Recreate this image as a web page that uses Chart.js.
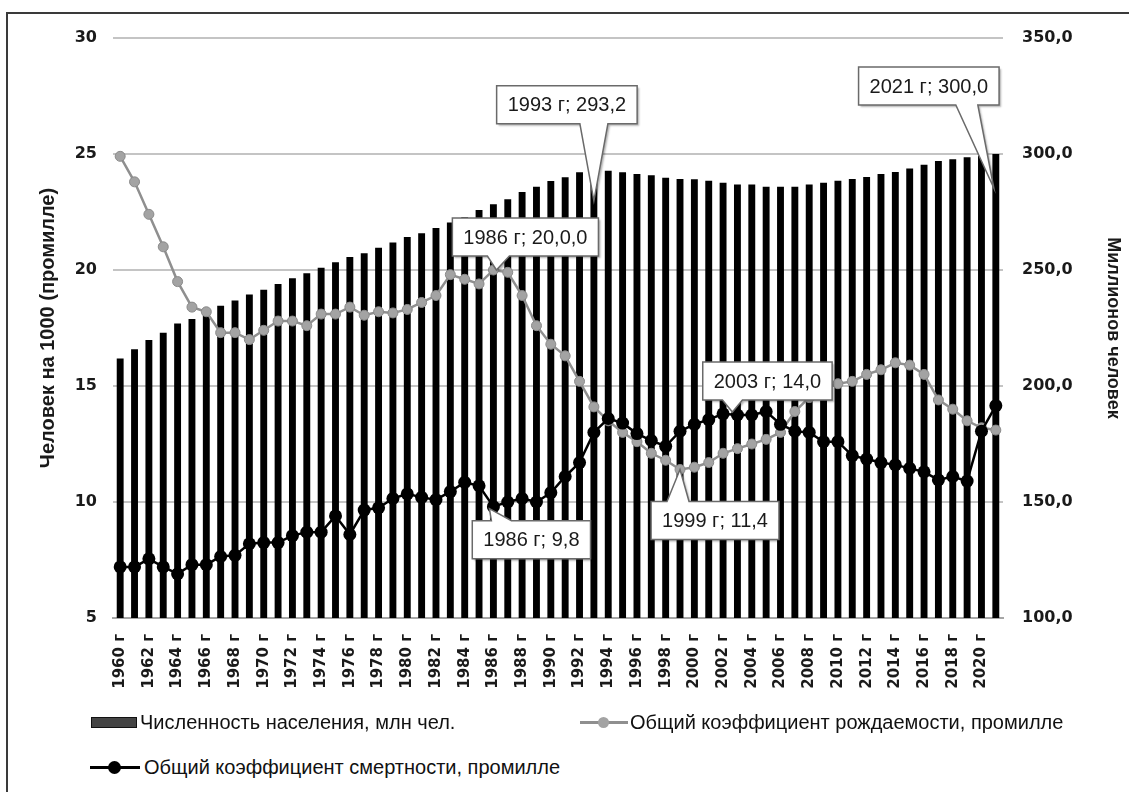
<!DOCTYPE html>
<html lang="ru">
<head>
<meta charset="utf-8">
<title>Численность населения и коэффициенты рождаемости и смертности</title>
<script src="https://cdn.jsdelivr.net/npm/chart.js@4.4.1/dist/chart.umd.min.js"></script>
<style>
    html, body { margin: 0; padding: 0; background: #fff; }
    body { width: 1129px; height: 792px; position: relative; overflow: hidden; font-family: "Liberation Sans", Arial, sans-serif; }
    .frame { position: absolute; left: 6px; top: 12px; width: 1200px; height: 900px; border: 2px solid #3a3a3a; }
    .chart-box { position: absolute; left: 0; top: 0; width: 1129px; height: 712px; }
    .legend-text { position: absolute; font-size: 20px; line-height: 24px; color: #111; white-space: nowrap; }
    .sym-bar { position: absolute; height: 9px; background: #444; border: 1.5px solid #111; }
    .sym-line { position: absolute; height: 3px; }
    .sym-dot { position: absolute; border-radius: 50%; }
</style>
</head>
<body>
<div class="frame"></div>
<div class="chart-box"><canvas id="populationChart"></canvas></div>

<!-- legend -->
<div class="sym-bar" style="left:91px; top:717px; width:44px;"></div>
<div class="legend-text" style="left:140px; top:710px;">Численность населения, млн чел.</div>

<div class="sym-line" style="left:580px; top:721px; width:48px; background:#8f8f8f;"></div>
<div class="sym-dot" style="left:598px; top:717px; width:11px; height:11px; background:#a3a3a3;"></div>
<div class="legend-text" style="left:630px; top:710px;">Общий коэффициент рождаемости, промилле</div>

<div class="sym-line" style="left:90px; top:766px; width:50px; background:#000;"></div>
<div class="sym-dot" style="left:108px; top:761px; width:13px; height:13px; background:#000;"></div>
<div class="legend-text" style="left:144px; top:755px;">Общий коэффициент смертности, промилле</div>

<script>
// categories
const years = [
    '1960 г', '1961 г', '1962 г', '1963 г', '1964 г', '1965 г', '1966 г', '1967 г', '1968 г', '1969 г',
    '1970 г', '1971 г', '1972 г', '1973 г', '1974 г', '1975 г', '1976 г', '1977 г', '1978 г', '1979 г',
    '1980 г', '1981 г', '1982 г', '1983 г', '1984 г', '1985 г', '1986 г', '1987 г', '1988 г', '1989 г',
    '1990 г', '1991 г', '1992 г', '1993 г', '1994 г', '1995 г', '1996 г', '1997 г', '1998 г', '1999 г',
    '2000 г', '2001 г', '2002 г', '2003 г', '2004 г', '2005 г', '2006 г', '2007 г', '2008 г', '2009 г',
    '2010 г', '2011 г', '2012 г', '2013 г', '2014 г', '2015 г', '2016 г', '2017 г', '2018 г', '2019 г',
    '2020 г', '2021 г'
];

// population, mln (right axis)
const population = [
    211.9, 215.8, 219.8, 223.0, 226.9, 228.9, 232.0, 234.6, 236.9, 239.4,
    241.5, 244.0, 246.4, 248.6, 251.0, 253.3, 255.6, 257.2, 259.6, 261.8,
    264.2, 265.8, 268.1, 270.5, 272.7, 275.9, 278.3, 280.5, 283.6, 285.9,
    288.4, 290.0, 292.1, 293.2, 292.8, 292.1, 291.4, 290.8, 289.8, 289.2,
    289.1, 288.5, 287.6, 286.9, 286.9, 285.9, 285.9, 285.9, 286.9, 287.6,
    288.5, 289.2, 290.1, 291.4, 292.2, 293.7, 295.4, 297.0, 297.7, 298.6,
    299.2, 300.0
];

// crude birth rate, per mille
const birthRate = [
    24.9, 23.8, 22.4, 21.0, 19.5, 18.4, 18.2, 17.3, 17.3, 17.0,
    17.4, 17.8, 17.8, 17.6, 18.1, 18.1, 18.4, 18.05, 18.2, 18.15,
    18.3, 18.6, 18.9, 19.8, 19.6, 19.4, 20.0, 19.9, 18.9, 17.6,
    16.8, 16.3, 15.2, 14.1, 13.5, 13.0, 12.6, 12.1, 11.8, 11.4,
    11.5, 11.7, 12.1, 12.3, 12.5, 12.7, 13.0, 13.9, 14.5, 14.9,
    15.1, 15.2, 15.5, 15.7, 16.0, 15.9, 15.5, 14.4, 14.0, 13.5,
    13.2, 13.1
];

// crude death rate, per mille
const deathRate = [
    7.2, 7.2, 7.55, 7.2, 6.9, 7.3, 7.3, 7.65, 7.7, 8.2,
    8.25, 8.25, 8.55, 8.7, 8.7, 9.4, 8.6, 9.65, 9.75, 10.15,
    10.35, 10.2, 10.1, 10.45, 10.85, 10.7, 9.8, 10.0, 10.15, 10.0,
    10.4, 11.1, 11.7, 13.0, 13.6, 13.4, 12.95, 12.65, 12.4, 13.05,
    13.35, 13.55, 13.8, 13.75, 13.75, 13.9, 13.35, 13.05, 13.0, 12.6,
    12.6, 12.0, 11.85, 11.7, 11.6, 11.45, 11.3, 10.95, 11.1, 10.9,
    13.05, 14.15
];

// callout labels: dataset index, point index, text
const calloutTexts = [
    { ds: 2, idx: 33, text: '1993 г; 293,2' },
    { ds: 2, idx: 61, text: '2021 г; 300,0' },
    { ds: 1, idx: 26, text: '1986 г; 20,0,0' },
    { ds: 0, idx: 43, text: '2003 г; 14,0' },
    { ds: 0, idx: 26, text: '1986 г; 9,8' },
    { ds: 1, idx: 39, text: '1999 г; 11,4' }
];

// callout placement relative to its point (box centre offset, pointer base, tip)
const calloutPlacement = [
    { dx: -27, dy: -65, baseDx: 0, half: 14, tipDx: 0, tipDy: 31 },
    { dx: -67, dy: -68, baseDx: -29, half: 11, tipDx: -2, tipDy: 34 },
    { dx: 32, dy: -33, baseDx: 5, half: 11, tipDx: 3, tipDy: 0 },
    { dx: 30, dy: -34, baseDx: -5, half: 10, tipDx: -5, tipDy: -3 },
    { dx: 38, dy: 33, baseDx: 8, half: 10, tipDx: -4, tipDy: 2 },
    { dx: 35, dy: 51, baseDx: -2, half: 11, tipDx: 0, tipDy: 0 }
];

const tickFont = { family: '"DejaVu Sans", Verdana, sans-serif', weight: 'bold', size: 16 };

/**
 * Draws Excel-like data callouts on top of the datasets
 */
const calloutPlugin = {
    id: 'callouts',
    afterDatasetsDraw(chart) {
        const ctx = chart.ctx;
        ctx.save();
        ctx.font = '20px "Liberation Sans", Arial, sans-serif';
        calloutTexts.forEach((c, i) => {
            const p = calloutPlacement[i];
            const el = chart.getDatasetMeta(c.ds).data[c.idx];
            const w = ctx.measureText(c.text).width + 22;
            const h = 38;
            const left = el.x + p.dx - w / 2;
            const top = el.y + p.dy - h / 2;
            const edgeY = p.dy < 0 ? top + h : top;
            const bx = el.x + p.baseDx;
            const tipX = el.x + p.tipDx;
            const tipY = el.y + p.tipDy;

            ctx.beginPath();
            if (p.dy < 0) {
                ctx.moveTo(left, top);
                ctx.lineTo(left + w, top);
                ctx.lineTo(left + w, edgeY);
                ctx.lineTo(bx + p.half, edgeY);
                ctx.lineTo(tipX, tipY);
                ctx.lineTo(bx - p.half, edgeY);
                ctx.lineTo(left, edgeY);
            } else {
                ctx.moveTo(left, edgeY);
                ctx.lineTo(bx - p.half, edgeY);
                ctx.lineTo(tipX, tipY);
                ctx.lineTo(bx + p.half, edgeY);
                ctx.lineTo(left + w, edgeY);
                ctx.lineTo(left + w, top + h);
                ctx.lineTo(left, top + h);
            }
            ctx.closePath();

            ctx.shadowColor = 'rgba(0,0,0,0.3)';
            ctx.shadowOffsetX = 2;
            ctx.shadowOffsetY = 2;
            ctx.shadowBlur = 2;
            ctx.fillStyle = '#fff';
            ctx.fill();
            ctx.shadowColor = 'transparent';
            ctx.lineWidth = 1.5;
            ctx.strokeStyle = '#6a6a6a';
            ctx.stroke();

            ctx.fillStyle = '#1a1a1a';
            ctx.textAlign = 'center';
            ctx.textBaseline = 'middle';
            ctx.fillText(c.text, left + w / 2, top + h / 2 + 1);
        });
        ctx.restore();
    }
};

document.addEventListener('DOMContentLoaded', function() {
    new Chart(document.getElementById('populationChart'), {
        data: {
            labels: years,
            datasets: [
                {
                    type: 'line',
                    label: 'Общий коэффициент смертности, промилле',
                    data: deathRate,
                    yAxisID: 'y',
                    order: 1,
                    borderColor: '#000',
                    borderWidth: 2.5,
                    pointRadius: 6.5,
                    pointBackgroundColor: '#000',
                    pointBorderWidth: 0,
                    tension: 0
                },
                {
                    type: 'line',
                    label: 'Общий коэффициент рождаемости, промилле',
                    data: birthRate,
                    yAxisID: 'y',
                    order: 2,
                    borderColor: '#8f8f8f',
                    borderWidth: 2.5,
                    pointRadius: 5,
                    pointBackgroundColor: '#a3a3a3',
                    pointBorderColor: '#8a8a8a',
                    pointBorderWidth: 1,
                    tension: 0
                },
                {
                    type: 'bar',
                    label: 'Численность населения, млн чел.',
                    data: population,
                    yAxisID: 'y2',
                    order: 3,
                    backgroundColor: '#000',
                    barPercentage: 0.48,
                    categoryPercentage: 1
                }
            ]
        },
        options: {
            responsive: true,
            maintainAspectRatio: false,
            animation: false,
            layout: { padding: { top: 38, left: 0, right: 0, bottom: 0 } },
            plugins: {
                legend: { display: false },
                tooltip: { enabled: false }
            },
            scales: {
                x: {
                    grid: { display: false, drawTicks: false },
                    border: { display: true, color: '#a6a6a6', width: 2 },
                    ticks: {
                        autoSkip: false,
                        maxRotation: 90,
                        minRotation: 90,
                        padding: 16,
                        color: '#1a1a1a',
                        font: { family: '"DejaVu Sans", Verdana, sans-serif', weight: 'bold', size: 15 },
                        callback: function(value, index) {
                            return index % 2 === 0 ? this.getLabelForValue(value) : '';
                        }
                    },
                    afterFit: function(scale) { scale.height = 94; }
                },
                y: {
                    position: 'left',
                    min: 5,
                    max: 30,
                    ticks: { stepSize: 5, padding: 16, color: '#1a1a1a', font: tickFont },
                    grid: { color: '#c4c4c4', lineWidth: 2, drawTicks: false },
                    border: { display: false },
                    title: {
                        display: true,
                        text: 'Человек на 1000 (промилле)',
                        color: '#1a1a1a',
                        font: { family: '"Liberation Sans", Arial, sans-serif', weight: 'bold', size: 20 },
                        padding: { top: 36 }
                    },
                    afterFit: function(scale) { scale.width = 113; }
                },
                y2: {
                    position: 'right',
                    min: 100,
                    max: 350,
                    ticks: {
                        stepSize: 50,
                        padding: 19,
                        color: '#1a1a1a',
                        font: tickFont,
                        callback: function(value) { return value.toFixed(1).replace('.', ','); }
                    },
                    grid: { display: false, drawTicks: false },
                    border: { display: false },
                    title: {
                        display: true,
                        text: 'Миллионов человек',
                        color: '#1a1a1a',
                        font: { family: '"Liberation Sans", Arial, sans-serif', weight: 'bold', size: 18 },
                        padding: { top: 5 }
                    },
                    afterFit: function(scale) { scale.width = 126; }
                }
            }
        },
        plugins: [calloutPlugin]
    });
});
</script>
</body>
</html>
